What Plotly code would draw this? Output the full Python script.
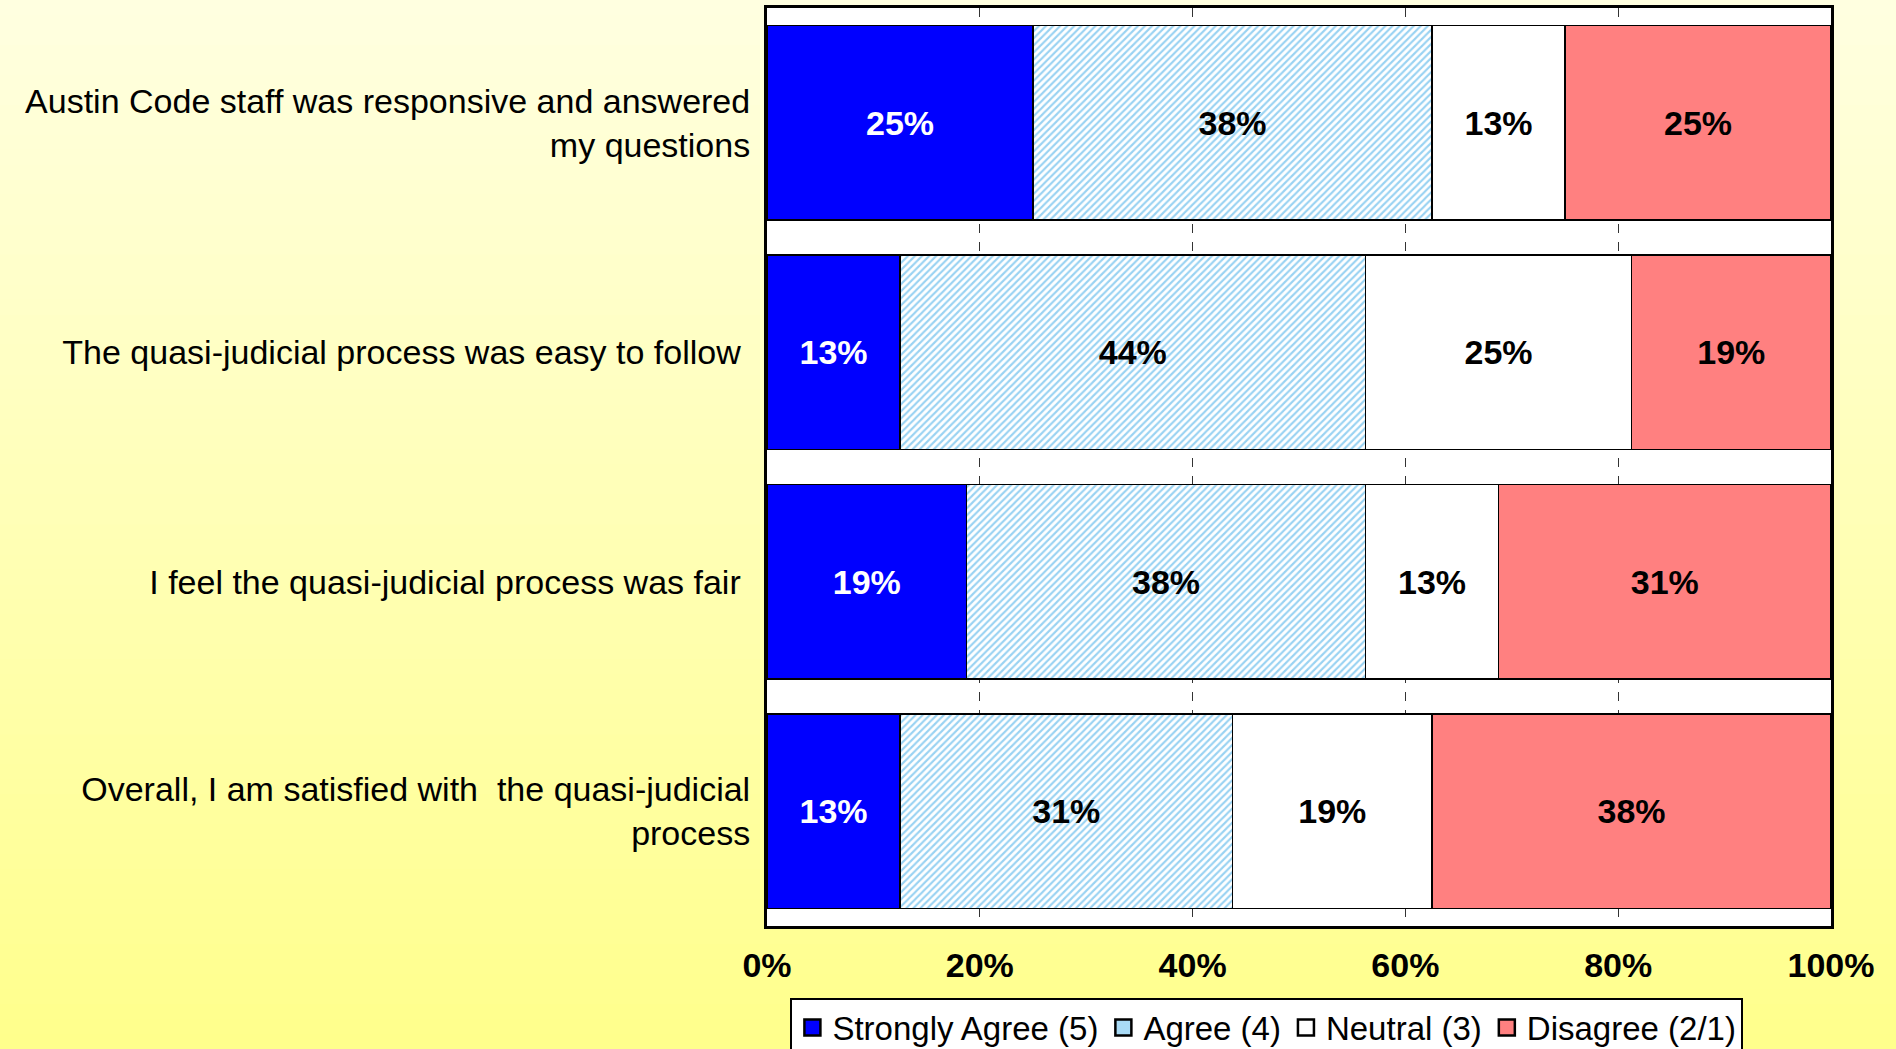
import plotly.graph_objects as go

# survey answers, n=16 -> shares in percent
questions = [
    'Austin Code staff was responsive and answered<br>my questions',
    'The quasi-judicial process was easy to follow ',
    'I feel the quasi-judicial process was fair ',
    'Overall, I am satisfied with  the quasi-judicial<br>process',
]
strongly_agree = [25.0, 12.5, 18.75, 12.5]
agree = [37.5, 43.75, 37.5, 31.25]
neutral = [12.5, 25.0, 12.5, 18.75]
disagree = [25.0, 18.75, 31.25, 37.5]

HATCH = '#33A6E6'
series = [
    ('Strongly Agree (5)', strongly_agree, dict(color='#0000FF'), 'white', '#0000FF'),
    ('Agree (4)', agree, dict(color='white', pattern=dict(shape='/', fgcolor=HATCH, bgcolor='white',
                                                           size=5, solidity=0.42, fillmode='overlay')),
     'black', '#A9DBF6'),
    ('Neutral (3)', neutral, dict(color='white'), 'black', 'white'),
    ('Disagree (2/1)', disagree, dict(color='#FF8080'), 'black', '#FF8080'),
]

FONT = 'Arial, Liberation Sans, sans-serif'

fig = go.Figure()
for name, vals, mk, tc, lc in series:
    mk = dict(mk, line=dict(color='black', width=1.5))
    fig.add_trace(go.Bar(
        name=name, y=questions, x=vals, orientation='h', marker=mk,
        text=[f'{round(v + 1e-9):.0f}%' for v in vals],
        textposition='inside', insidetextanchor='middle', textangle=0,
        textfont=dict(family=FONT, size=34, color=tc, weight='bold'),
        showlegend=False,
    ))
# legend proxies with bigger square swatches
for name, vals, mk, tc, lc in series:
    fig.add_trace(go.Scatter(
        name=name, x=[None], y=[None], mode='markers',
        marker=dict(symbol='square', size=24, color=lc, line=dict(color='black', width=2.5)),
    ))

# yellow gradient backdrop (paper coords, plot area spans y 8..926 px of 1049)
shapes = []
n_bands = 70
H, top, bot = 1049, 8, 926
for i in range(n_bands):
    p0 = H * i / n_bands
    p1 = H * (i + 1) / n_bands + 1
    t = i / (n_bands - 1)
    b = int(round(224 + (140 - 224) * t))
    shapes.append(dict(type='rect', xref='paper', yref='paper', layer='below',
                       x0=-1, x1=2, y0=(bot - p1) / (bot - top), y1=(bot - p0) / (bot - top),
                       fillcolor=f'rgb(255,255,{b})', line=dict(width=0)))
shapes.append(dict(type='rect', xref='x domain', yref='y domain', layer='below',
                   x0=0, x1=1, y0=0, y1=1, fillcolor='white', line=dict(width=0)))

fig.update_layout(
    width=1896, height=1049,
    barmode='stack', bargap=0.153,
    paper_bgcolor='#FFFFE0', plot_bgcolor='white',
    font=dict(family=FONT, size=32, color='black'),
    margin=dict(l=767, r=65, t=8, b=123, autoexpand=False),
    shapes=shapes,
    xaxis=dict(range=[0, 100], tickvals=[0, 20, 40, 60, 80, 100],
               ticktext=['0%', '20%', '40%', '60%', '80%', '100%'],
               tickfont=dict(family=FONT, size=34, weight='bold'),
               showgrid=True, gridcolor='#333333', gridwidth=1.2, griddash='dash',
               showline=True, linecolor='black', linewidth=3, mirror=True,
               zeroline=False, ticks='', ticklabelstandoff=7),
    yaxis=dict(autorange='reversed', showgrid=False, showline=True, linecolor='black',
               linewidth=3, mirror=True, ticks='', ticklabelstandoff=7,
               tickfont=dict(family=FONT, size=34)),
    legend=dict(orientation='h', x=0.022, y=-0.078, xanchor='left', yanchor='top',
                bgcolor='white', bordercolor='black', borderwidth=2,
                font=dict(family=FONT, size=33), traceorder='normal', itemwidth=30,
                itemsizing='trace'),
    showlegend=True,
)

fig.write_html('out.html', config={'displayModeBar': False},
               post_script="document.body.style.margin='0';document.body.style.overflow='hidden';")
